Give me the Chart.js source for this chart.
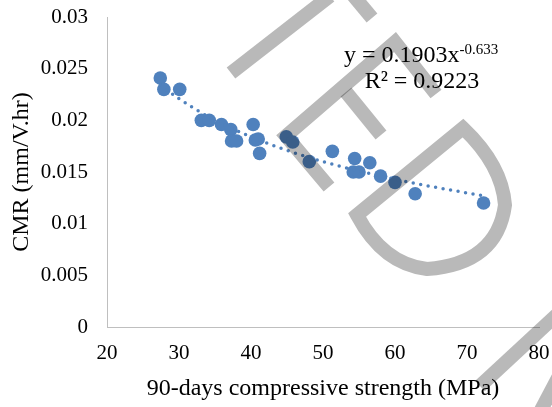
<!DOCTYPE html>
<html>
<head>
<meta charset="utf-8">
<script src="https://cdn.jsdelivr.net/npm/chart.js@4.4.1/dist/chart.umd.min.js"></script>
<style>
  html, body { margin: 0; padding: 0; background: #fff; }
  #wrap { width: 552px; height: 407px; }
</style>
</head>
<body>
<div id="wrap"><canvas id="cmrChart" width="552" height="407"></canvas></div>
<script>
// 90-day compressive strength (MPa) vs CMR (mm/V.hr)
const strength = [27.4, 27.9, 30.1, 33.1, 34.2, 35.9, 37.2, 37.3, 38.0, 40.3, 40.6, 41.0, 41.2,
                  44.9, 45.8, 48.1, 51.3, 54.4, 54.2, 55.0, 56.5, 58.0, 60.0, 62.8, 72.3];
const cmr = [0.0241, 0.0230, 0.0230, 0.0200, 0.0200, 0.0196, 0.0191, 0.0180, 0.0180, 0.0196, 0.0181, 0.0182, 0.0168,
             0.0184, 0.0179, 0.0160, 0.0170, 0.0163, 0.0150, 0.0150, 0.0159, 0.0146, 0.0140, 0.0129, 0.0120];

// dotted power trendline
const trendX = [27.4, 30, 32, 35, 40, 45, 50, 55, 60, 65, 72.3];
const trendY = [0.0234, 0.0221, 0.0212, 0.0200, 0.0184, 0.0171, 0.0160, 0.0151, 0.0143, 0.0136, 0.0127];

const xTicks = [20, 30, 40, 50, 60, 70, 80];
const yTicks = [0, 0.005, 0.01, 0.015, 0.02, 0.025, 0.03];

const equationText = "y = 0.1903x";
const exponentText = "-0.633";
const r2Text = "R\u00B2 = 0.9223";

const BLUE = "#4F81BD";
const SERIF = "'Liberation Serif', 'Times New Roman', serif";

/**
 * Trendline equation label, placed in data coordinates
 */
const equationPlugin = {
  id: "equation",
  afterDatasetsDraw(chart) {
    const { ctx, scales } = chart;
    const left = scales.x.getPixelForValue(52.9);
    const y1 = scales.y.getPixelForValue(0.02565);
    const cx2 = scales.x.getPixelForValue(63.75);
    const y2 = scales.y.getPixelForValue(0.02313);
    ctx.save();
    ctx.fillStyle = "#000";
    ctx.textBaseline = "alphabetic";
    ctx.textAlign = "left";
    ctx.font = "24px " + SERIF;
    const w1 = ctx.measureText(equationText).width;
    ctx.fillText(equationText, left, y1);
    ctx.font = "15px " + SERIF;
    ctx.fillText(exponentText, left + w1, y1 - 8);
    ctx.font = "24px " + SERIF;
    ctx.textAlign = "center";
    ctx.fillText(r2Text, cx2, y2);
    ctx.restore();
  }
};

/**
 * Grey stamp overlay on top of the chart
 */
const stampPlugin = {
  id: "stamp",
  afterDraw(chart) {
    const ctx = chart.ctx;
    ctx.save();
    ctx.globalCompositeOperation = "multiply";
    ctx.strokeStyle = "#B9B9B9";
    ctx.lineWidth = 14;
    ctx.lineCap = "butt";
    ctx.lineJoin = "miter";

    const seg = (pts) => {
      ctx.beginPath();
      ctx.moveTo(pts[0][0], pts[0][1]);
      for (let i = 1; i < pts.length; i++) ctx.lineTo(pts[i][0], pts[i][1]);
      ctx.stroke();
    };
    // T
    seg([[231, 73], [330, -4]]);
    seg([[352, -6], [372, 18]]);
    // E
    seg([[329, 187], [286, 136], [395, 42], [436, 94]]);
    seg([[346, 92], [381, 135]]);
    // D
    ctx.beginPath();
    ctx.moveTo(357, 215);
    ctx.lineTo(463, 128);
    ctx.quadraticCurveTo(502, 165, 505, 205);
    ctx.quadraticCurveTo(497, 264, 427, 269);
    ctx.quadraticCurveTo(383, 264, 357, 215);
    ctx.closePath();
    ctx.stroke();
    // lower right strokes
    seg([[480, 386], [575, 298]]);
    seg([[540, 412], [570, 355]]);
    ctx.restore();
  }
};

const scatterData = strength.map((s, i) => ({ x: s, y: cmr[i] }));
const trendData = trendX.map((s, i) => ({ x: s, y: trendY[i] }));

new Chart(document.getElementById("cmrChart").getContext("2d"), {
  type: "scatter",
  data: {
    datasets: [
      {
        label: "Trend",
        type: "line",
        data: trendData,
        showLine: true,
        borderColor: BLUE,
        borderWidth: 3.5,
        borderDash: [0, 7.6],
        borderCapStyle: "round",
        cubicInterpolationMode: "monotone",
        pointRadius: 0,
        fill: false,
        order: 0
      },
      {
        label: "CMR",
        data: scatterData,
        backgroundColor: BLUE,
        borderWidth: 0,
        pointRadius: 6.8,
        pointHoverRadius: 6.8,
        order: 1
      }
    ]
  },
  options: {
    responsive: false,
    animation: false,
    events: [],
    layout: { padding: { left: 0, right: 13, top: 17, bottom: 0 } },
    plugins: {
      legend: { display: false },
      tooltip: { enabled: false }
    },
    scales: {
      x: {
        type: "linear",
        min: 20,
        max: 80,
        afterBuildTicks: (axis) => { axis.ticks = xTicks.map((v) => ({ value: v })); },
        afterFit: (axis) => { axis.height = 80; },
        // tickLength gives the label offset without growing the side padding
        grid: { display: false, drawTicks: true, tickLength: 14 },
        border: { display: true, color: "#BFBFBF", width: 1 },
        ticks: {
          color: "#000",
          font: { family: SERIF, size: 21 },
          padding: 0,
          maxRotation: 0
        },
        title: {
          display: true,
          text: "90-days compressive strength (MPa)",
          color: "#000",
          font: { family: SERIF, size: 24 },
          padding: { top: 4, bottom: 4 }
        }
      },
      y: {
        type: "linear",
        min: 0,
        max: 0.03,
        afterBuildTicks: (axis) => { axis.ticks = yTicks.map((v) => ({ value: v })); },
        afterFit: (axis) => { axis.width = 107; },
        grid: { display: false, drawTicks: true, tickLength: 19 },
        border: { display: true, color: "#BFBFBF", width: 1 },
        ticks: {
          color: "#000",
          font: { family: SERIF, size: 21 },
          padding: 0,
          callback: (v) => String(+v.toFixed(3))
        },
        title: {
          display: true,
          text: "CMR (mm/V.hr)",
          color: "#000",
          font: { family: SERIF, size: 24 },
          padding: { top: 7, bottom: 4 }
        }
      }
    }
  },
  plugins: [equationPlugin, stampPlugin]
});
</script>
</body>
</html>
